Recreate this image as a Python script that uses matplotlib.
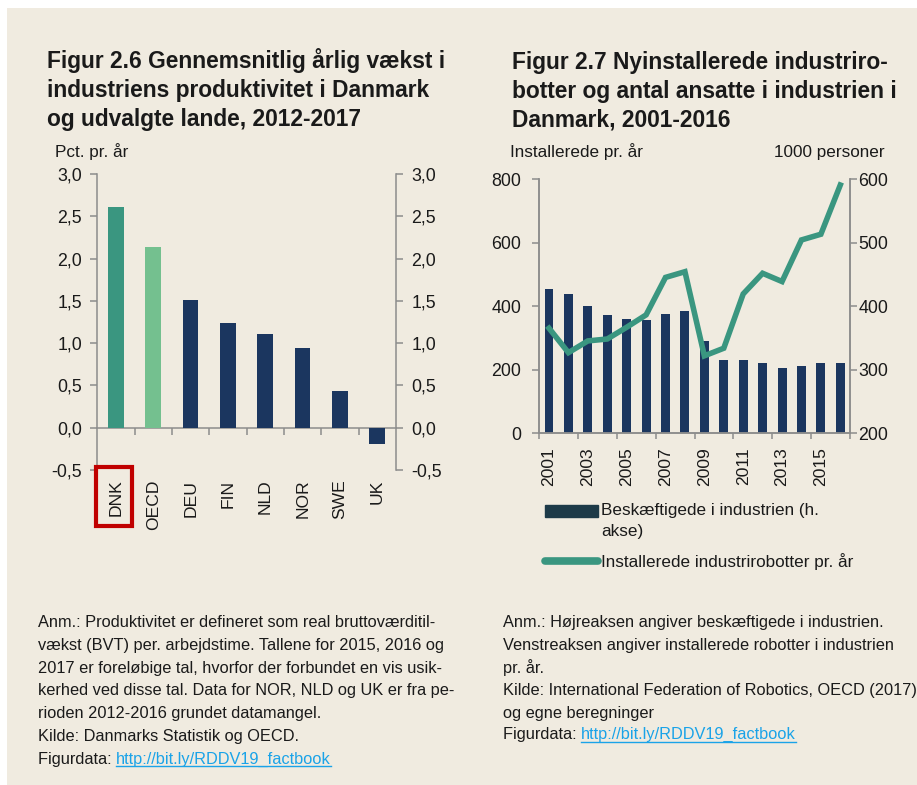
import matplotlib
matplotlib.use("Agg")
import matplotlib.pyplot as plt
from matplotlib.patches import Rectangle
from matplotlib.lines import Line2D
import numpy as np

plt.rcParams['font.family'] = ['Liberation Sans', 'DejaVu Sans']

# ---------------- data ----------------
countries = ["DNK", "OECD", "DEU", "FIN", "NLD", "NOR", "SWE", "UK"]
growth = [2.61, 2.14, 1.51, 1.24, 1.11, 0.94, 0.43, -0.19]
left_yticks = [-0.5, 0.0, 0.5, 1.0, 1.5, 2.0, 2.5, 3.0]
left_yticklabels = ["-0,5", "0,0", "0,5", "1,0", "1,5", "2,0", "2,5", "3,0"]

years = list(range(2001, 2017))
employed = [428, 419, 401, 386, 380, 378, 388, 392, 346, 316, 316, 311, 303, 306, 311, 311]
robots = [331, 254, 291, 297, 334, 373, 491, 509, 244, 268, 439, 504, 478, 609, 627, 782]
year_labels = [2001, 2003, 2005, 2007, 2009, 2011, 2013, 2015]
robot_ticks = [0, 200, 400, 600, 800]
emp_ticks = [200, 300, 400, 500, 600]

# ---------------- style ----------------
BG = "#f0ebe0"
NAVY = "#1b365f"
TEAL = "#3a9680"
LIGHTGREEN = "#74c08f"
SPINE = "#8c8c8c"
TXT = "#1a1a1a"
LINK = "#1aa3e8"
TICKFS = 12.8
CATFS = 12.6
LABFS = 12.3
TITLEFS = 16.4
NFS = 11.8

W, H = 917, 785
fig = plt.figure(figsize=(W / 100, H / 100), dpi=100)
fig.patch.set_facecolor("white")
fig.patches.append(Rectangle((7 / W, 0), 1 - 7 / W, 1 - 8 / H, transform=fig.transFigure,
                             facecolor=BG, edgecolor="none", zorder=-10))

def px(x, y):
    return x / W, 1 - y / H

# ---------------- titles ----------------
title_l = ["Figur 2.6 Gennemsnitlig årlig vækst i",
           "industriens produktivitet i Danmark",
           "og udvalgte lande, 2012-2017"]
title_r = ["Figur 2.7 Nyinstallerede industriro-",
           "botter og antal ansatte i industrien i",
           "Danmark, 2001-2016"]
for i, (tl, tr) in enumerate(zip(title_l, title_r)):
    yb = 68 + i * 29.2
    fig.text(*px(47, yb), tl, fontsize=TITLEFS, fontweight="bold", color=TXT, va="baseline")
    fig.text(*px(512, yb + 0.6), tr, fontsize=TITLEFS, fontweight="bold", color=TXT, va="baseline")

# ---------------- left chart ----------------
axl = fig.add_axes([97.3 / W, 1 - 470 / H, 298.7 / W, 296 / H])
axl.set_facecolor("none")
x = np.arange(len(countries))
colors = [TEAL, LIGHTGREEN] + [NAVY] * (len(countries) - 2)
axl.bar(x, growth, width=0.42, color=colors, zorder=3)
axl.set_xlim(-0.5, len(countries) - 0.5)
axl.set_ylim(-0.5, 3.0)
for s in ["left", "right", "bottom"]:
    axl.spines[s].set_color(SPINE)
    axl.spines[s].set_linewidth(1.1)
axl.spines["top"].set_visible(False)
axl.spines["bottom"].set_position(("data", 0))
axl.set_xticks([])
axl.set_xticks(np.arange(0.5, len(countries) - 0.5, 1.0), minor=True)
axl.tick_params(axis="x", which="minor", direction="out", length=5, width=1.1, color=SPINE)
axl.set_yticks(left_yticks)
axl.set_yticklabels(left_yticklabels)
axl.tick_params(axis="y", which="major", direction="out", length=5, width=1.1, color=SPINE,
                labelsize=TICKFS, labelcolor=TXT, pad=6, left=True, right=True,
                labelleft=True, labelright=True)
sec = axl.secondary_xaxis("bottom")
sec.set_xticks(x)
sec.set_xticklabels(countries, rotation=90, va="top", ha="center")
sec.tick_params(length=0, labelsize=CATFS, labelcolor=TXT, pad=7)
for s in sec.spines.values():
    s.set_visible(False)

fig.text(*px(55, 157), "Pct. pr. år", fontsize=LABFS, color=TXT, va="baseline")

# red box around DNK label
fig.patches.append(Rectangle(px(96, 526), 35.5 / W, 59 / H, transform=fig.transFigure,
                             facecolor="none", edgecolor="#c00000", linewidth=3, zorder=10))

# ---------------- right chart ----------------
axb = fig.add_axes([539.3 / W, 1 - 433.3 / H, 310.7 / W, 254 / H])
axb.set_facecolor("none")
bars = axb.bar(years, employed, width=0.46, color=NAVY, zorder=2,
               label="Beskæftigede i industrien (h.\nakse)")
axb.set_ylim(200, 600)
axb.set_xlim(years[0] - 0.5, years[-1] + 0.5)
axr = axb.twinx()
line, = axr.plot(years, robots, color=TEAL, linewidth=4, solid_joinstyle="miter",
                 label="Installerede industrirobotter pr. år", zorder=3)
axr.set_ylim(0, 800)
axr.set_yticks(robot_ticks)
axr.yaxis.tick_left()
axr.tick_params(axis="y", direction="out", length=5, width=1.1, color=SPINE,
                labelsize=TICKFS, labelcolor=TXT, pad=8, right=False, labelright=False,
                left=True, labelleft=True)
axb.yaxis.tick_right()
axb.set_yticks(emp_ticks)
axb.tick_params(axis="y", direction="out", length=5, width=1.1, color=SPINE,
                labelsize=TICKFS, labelcolor=TXT, pad=1, left=False, labelleft=False,
                right=True, labelright=True)
for a in (axb, axr):
    for s in ["left", "right", "bottom"]:
        a.spines[s].set_color(SPINE)
        a.spines[s].set_linewidth(1.1)
    a.spines["top"].set_visible(False)
axb.set_xticks(np.arange(years[0] - 0.5, years[-1] + 1.0, 2.0))
axb.set_xticklabels([])
axb.tick_params(axis="x", direction="out", length=4, width=1.1, color=SPINE)
sec2 = axb.secondary_xaxis("bottom")
sec2.set_xticks(year_labels)
sec2.set_xticklabels([str(y) for y in year_labels], rotation=90, va="top", ha="center")
sec2.tick_params(length=0, labelsize=CATFS, labelcolor=TXT, pad=10)
for s in sec2.spines.values():
    s.set_visible(False)

fig.text(*px(510, 157), "Installerede pr. år", fontsize=LABFS, color=TXT, va="baseline")
fig.text(*px(885, 157), "1000 personer", fontsize=LABFS, color=TXT, va="baseline", ha="right")

leg = fig.legend(handles=[bars, line], loc="upper left", bbox_to_anchor=px(545, 503),
                 frameon=False, fontsize=LABFS, handlelength=3.1, handletextpad=0.2,
                 labelspacing=0.85, borderaxespad=0, borderpad=0)
for t in leg.get_texts():
    t.set_color(TXT)
    t.set_linespacing(1.5)
hb = leg.legend_handles[0]
hb.set_color("#1d3a48")
hb.set_y(hb.get_y() + 7.5)
leg.legend_handles[1].set_linewidth(5.5)
leg.legend_handles[1].set_solid_capstyle("round")

# ---------------- notes ----------------
notes_l = ["Anm.: Produktivitet er defineret som real bruttoværditil-",
           "vækst (BVT) per. arbejdstime. Tallene for 2015, 2016 og",
           "2017 er foreløbige tal, hvorfor der forbundet en vis usik-",
           "kerhed ved disse tal. Data for NOR, NLD og UK er fra pe-",
           "rioden 2012-2016 grundet datamangel.",
           "Kilde: Danmarks Statistik og OECD."]
notes_r = ["Anm.: Højreaksen angiver beskæftigede i industrien.",
           "Venstreaksen angiver installerede robotter i industrien",
           "pr. år.",
           "Kilde: International Federation of Robotics, OECD (2017)",
           "og egne beregninger"]
step = 22.8
for i, t in enumerate(notes_l):
    fig.text(*px(38, 627 + i * step), t, fontsize=NFS, color=TXT, va="baseline")
for i, t in enumerate(notes_r):
    fig.text(*px(503, 627 + i * step), t, fontsize=NFS, color=TXT, va="baseline")

renderer = fig.canvas.get_renderer()
def figurdata(x0, yb):
    t1 = fig.text(*px(x0, yb), "Figurdata: ", fontsize=NFS, color=TXT, va="baseline")
    bb = t1.get_window_extent(renderer)
    t2 = fig.text(bb.x1 / W, 1 - yb / H, "http://bit.ly/RDDV19_factbook", fontsize=NFS,
                  color=LINK, va="baseline")
    bb2 = t2.get_window_extent(renderer)
    fig.lines.append(Line2D([bb2.x0 / W, bb2.x1 / W], [1 - (yb + 2.5) / H] * 2,
                            transform=fig.transFigure, color=LINK, linewidth=1.0))

figurdata(38, 627 + 6 * step)
figurdata(503, 627 + 5 * step - 2)

fig.savefig("out.png", dpi=100, facecolor=fig.get_facecolor())
